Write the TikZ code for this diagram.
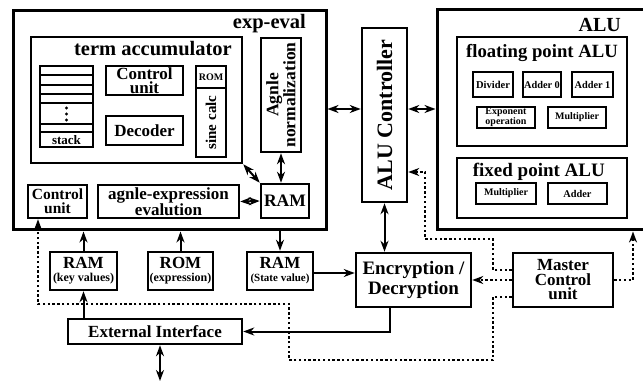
\documentclass[tikz,border=0pt]{standalone}
\usepackage{fontspec}
\setmainfont{Liberation Serif}
\usetikzlibrary{arrows.meta,calc}
\newcommand\myfs[2]{\fontsize{#1}{#2}\selectfont}
\tikzset{
  arw/.tip={Stealth[length=11pt,width=8pt,inset=3.5pt]},
  box/.style={draw, line width=2.5pt, inner sep=0pt, align=center, font=\bfseries},
  bigbox/.style={box, line width=3pt},
  lbl/.style={inner sep=0pt, align=center, font=\bfseries},
  conn/.style={line width=2pt},
  dbl/.style={conn, arw-arw},
  one/.style={conn, -arw},
  dot/.style={line width=2.4pt, dash pattern=on 2.4pt off 2.4pt},
}
\begin{document}
\begin{tikzpicture}[x=1pt,y=-1pt]
\useasboundingbox (0,0) rectangle (643,382);
% ---------------- exp-eval
\node[bigbox, minimum width=313pt, minimum height=219pt] (expeval) at (169.5,120.5) {};
\node[lbl, font=\bfseries\myfs{20.5}{20}, anchor=base east] (lexp) at (306,29) {exp-eval};
\node[box, minimum width=211pt, minimum height=126pt] (termacc) at (136.5,100) {};
\node[lbl, font=\bfseries\myfs{20.5}{20}, anchor=base east] (lterm) at (232,56) {term accumulator};
% stack
\node[box, line width=2.2pt, minimum width=53pt, minimum height=81pt] (stack) at (66.5,106.5) {};
\foreach \yy in {75,85,94,103,124,132} \draw[line width=2.2pt] (40,\yy) -- (93,\yy);
\foreach \yy in {108,114,120} \fill (66.5,\yy) circle (1.7pt);
\node[lbl, font=\bfseries\myfs{13}{13}] (lstack) at (66.5,140) {stack};
\node[box, minimum width=77pt, minimum height=29pt, font=\bfseries\myfs{17}{13.5}] (ctrlin) at (144.5,80.5) {Control\\unit};
\node[box, minimum width=77pt, minimum height=29pt, font=\bfseries\myfs{17}{17}] (decoder) at (144.5,130.5) {Decoder};
\node[box, line width=2.2pt, minimum width=30pt, minimum height=22pt, font=\bfseries\myfs{10}{10}] (rom) at (211,77) {ROM};
\node[box, line width=2.2pt, minimum width=30pt, minimum height=69pt] (sine) at (211,122.5) {};
\node[lbl, rotate=90, font=\bfseries\myfs{15}{15}] (lsine) at (sine.center) {sine calc};
\node[box, minimum width=40pt, minimum height=114pt] (agnle) at (281,95) {};
\node[lbl, rotate=90, font=\bfseries\myfs{17.5}{15}] (lagnle) at (agnle.center) {Agnle\\normalization};
\node[box, minimum width=48pt, minimum height=34pt, font=\bfseries\myfs{17.5}{17}] (ramin) at (285,201) {RAM};
\node[box, minimum width=141pt, minimum height=33pt, font=\bfseries\myfs{17}{15}] (agexpr) at (168.5,201.5) {agnle-expression\\evalution};
\node[box, minimum width=59pt, minimum height=33pt, font=\bfseries\myfs{15.5}{14}] (ctrlbl) at (57.5,201.5) {Control\\unit};
% ---------------- ALU controller
\node[box, minimum width=45pt, minimum height=174pt] (aluctrl) at (384.5,115) {};
\node[lbl, rotate=90, font=\bfseries\myfs{22}{22}] (laluctrl) at (aluctrl.center) {ALU Controller};
% ---------------- ALU
\node[bigbox, minimum width=213pt, minimum height=220pt] (alu) at (543.5,120) {};
\node[lbl, font=\bfseries\myfs{20}{20}, anchor=base east] (lalu) at (621,32) {ALU};
\node[box, minimum width=170pt, minimum height=109pt] (fpalu) at (542,91.5) {};
\node[lbl, font=\bfseries\myfs{18.7}{18}, anchor=base east] (lfpalu) at (618,58) {floating point ALU};
\node[box, line width=2.2pt, minimum width=40pt, minimum height=25pt, font=\bfseries\myfs{10.5}{10}] (divider) at (493,84.5) {Divider};
\node[box, line width=2.2pt, minimum width=38pt, minimum height=25pt, font=\bfseries\myfs{10.3}{10}] (adder0) at (542,84.5) {Adder 0};
\node[box, line width=2.2pt, minimum width=41pt, minimum height=25pt, font=\bfseries\myfs{10.3}{10}] (adder1) at (592.5,84.5) {Adder 1};
\node[box, line width=2.2pt, minimum width=58pt, minimum height=21pt, font=\bfseries\myfs{10}{8.5}] (expo) at (506,117.5) {Exponent\\operation};
\node[box, line width=2.2pt, minimum width=58pt, minimum height=21pt, font=\bfseries\myfs{10}{10}] (mult) at (577,117.5) {Multiplier};
\node[box, minimum width=170pt, minimum height=60pt] (fxalu) at (542,188) {};
\node[lbl, font=\bfseries\myfs{19}{19}, anchor=base east] (lfxalu) at (605,177) {fixed point ALU};
\node[box, line width=2.2pt, minimum width=60pt, minimum height=21pt, font=\bfseries\myfs{10}{10}] (fmult) at (506,193.5) {Multiplier};
\node[box, line width=2.2pt, minimum width=59pt, minimum height=21pt, font=\bfseries\myfs{10.3}{10}] (fadder) at (577.5,193.5) {Adder};
% ---------------- lower row
\node[box, minimum width=115pt, minimum height=54pt, font=\bfseries\myfs{19}{19.5}] (enc) at (413.5,280) {Encryption /\\Decryption};
\node[box, minimum width=100pt, minimum height=54pt, font=\bfseries\myfs{17}{14.5}] (master) at (563,280) {Master\\Control\\unit};
\node[box, minimum width=67pt, minimum height=38pt, font=\bfseries\myfs{17}{13}] (ramkey) at (83.5,271) {RAM\\{\myfs{12}{13}(key values)}};
\node[box, minimum width=65pt, minimum height=38pt, font=\bfseries\myfs{17}{13}] (romexp) at (180.5,271) {ROM\\{\myfs{12}{13}(expression)}};
\node[box, minimum width=66pt, minimum height=38pt, font=\bfseries\myfs{17}{13}] (ramstate) at (280,271) {RAM\\{\myfs{11}{13}(State value)}};
\node[box, minimum width=174pt, minimum height=25pt, font=\bfseries\myfs{17}{17}] (extif) at (155,331.5) {External Interface};
% ---------------- helper coordinates
\coordinate (y109) at (0,109);
\coordinate (y273) at (0,273);
\coordinate (y270) at (0,270);
\coordinate (y297) at (0,297);
\coordinate (x390) at (390,0);
\coordinate (x38) at (38,0);
\coordinate (x633) at (633,0);
\coordinate (bot) at (160,381);
\coordinate (d1) at (493,239);
\coordinate (d2) at (425,172);
\coordinate (d3) at (493,360);
\coordinate (d4) at (289,304);
% ---------------- connectors
\draw[dbl] (termacc.south east) -- (ramin.north west);
\draw[dbl] (agnle.south) -- (agnle.south |- ramin.north);
\draw[dbl] (agexpr.east) -- (ramin.west);
\draw[dbl] (expeval.east |- y109) -- (aluctrl.west |- y109);
\draw[dbl] (aluctrl.east |- y109) -- (alu.west |- y109);
\draw[dbl] (aluctrl.south) -- (aluctrl.south |- enc.north);
\draw[one] (ramkey.north) -- (ramkey.north |- expeval.south);
\draw[one] (romexp.north) -- (romexp.north |- expeval.south);
\draw[one] (expeval.south -| ramstate.north) -- (ramstate.north);
\draw[one] (extif.north -| ramkey.south) -- (ramkey.south);
\draw[dbl] (extif.south -| bot) -- (bot);
\draw[one] (ramstate.east |- y273) -- (enc.west |- y273);
\draw[one] (enc.south -| x390) |- (extif.east);
% dotted control lines
\draw[dot,-arw] (master.west |- y270) -| (d1) -| (d2) -- (aluctrl.east |- d2);
\draw[dot,-arw] (master.west) -- (enc.east);
\draw[dot,-arw] (master.west |- y297) -| (d3) -| (d4) -| (ctrlbl.south -| x38);
\draw[dot,-arw] (master.east) -| (alu.south -| x633);
\end{tikzpicture}
\end{document}
